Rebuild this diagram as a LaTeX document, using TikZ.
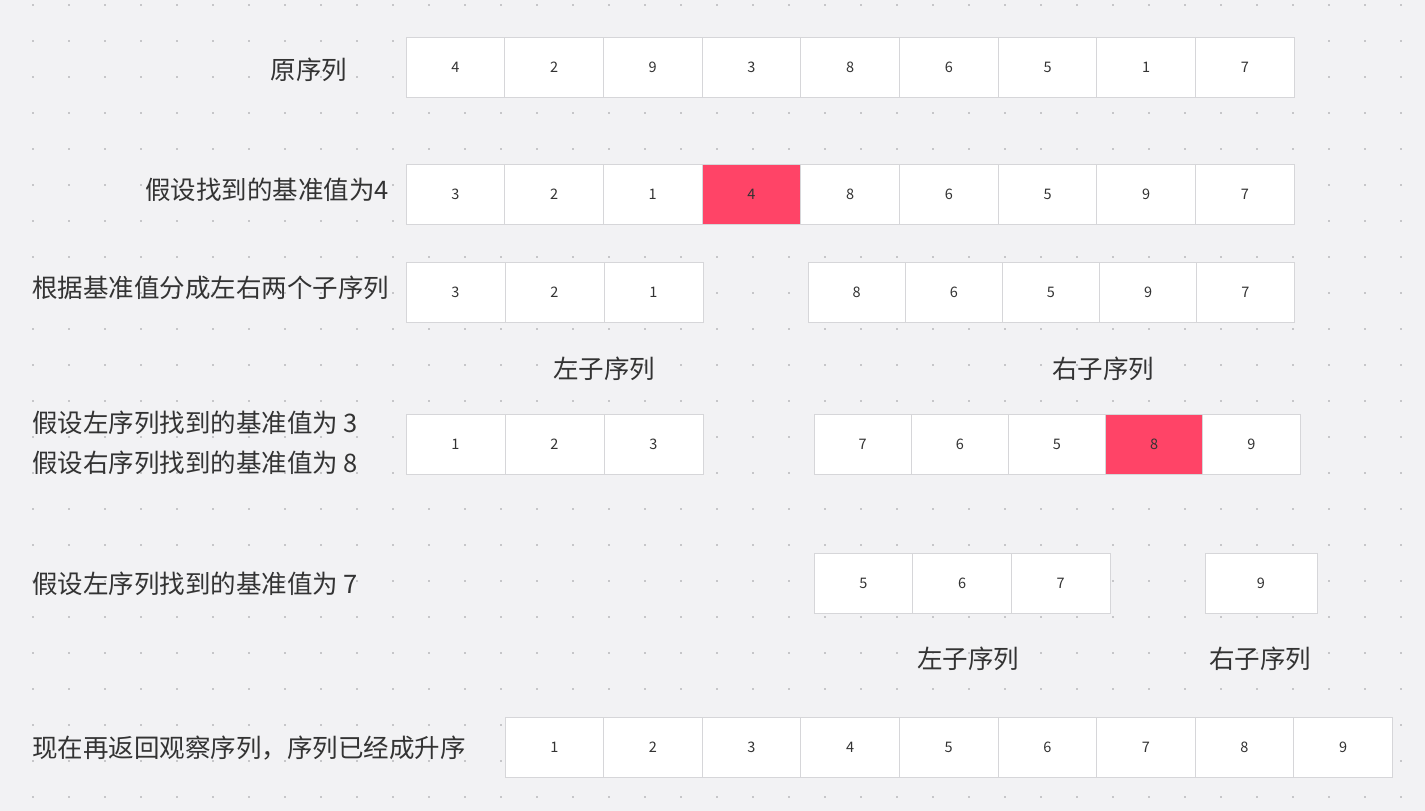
\documentclass[tikz,border=0pt]{standalone}
\usepackage{fontspec}
\setmainfont{Noto Sans CJK SC}
\usetikzlibrary{positioning}

\definecolor{bgcol}{HTML}{F2F2F4}
\definecolor{dotcol}{HTML}{C6C6C9}
\definecolor{linecol}{HTML}{D6D6D9}
\definecolor{pivotcol}{HTML}{FF4467}
\definecolor{txtcol}{HTML}{333333}

\begin{document}
\begin{tikzpicture}[
    x=1pt, y=-1pt,
    cell/.style={draw=linecol, fill=white, line width=1pt, minimum height=60pt,
        inner sep=0pt, text=txtcol, font=\fontsize{14.5}{16}\selectfont},
    pivot/.style={cell, fill=pivotcol},
    label/.style={inner sep=0pt, text=txtcol, font=\fontsize{25.5}{30}\selectfont}
]

% Background and dots
\useasboundingbox[fill=bgcol] (0,0) rectangle (1425,811);
\foreach \i in {0,...,38}
    \foreach \j in {0,...,22}
        \fill[dotcol] ({33+36*\i-1.2},{5+36*\j-1.2}) rectangle ++(2.4,2.4);

% Row 1
\node[label] (t1) at (309,70) {原序列};
\foreach \v [count=\i] in {4,2,9,3,8,6,5,1,7}
    \node[cell, minimum width=98.7pt] (a\i) at ({406+98.7*(\i-0.5)},67) {\v};

% Row 2
\node[label, anchor=east] (t2) at (389,190) {假设找到的基准值为4};
\foreach \v/\s [count=\i] in {3/cell,2/cell,1/cell,4/pivot,8/cell,6/cell,5/cell,9/cell,7/cell}
    \node[\s, minimum width=98.7pt] (b\i) at ({406+98.7*(\i-0.5)},194) {\v};

% Row 3
\node[label, anchor=west] (t3) at (32,288) {根据基准值分成左右两个子序列};
\foreach \v [count=\i] in {3,2,1}
    \node[cell, minimum width=99pt] (c\i) at ({406+99*(\i-0.5)},292) {\v};
\foreach \v [count=\i] in {8,6,5,9,7}
    \node[cell, minimum width=97.2pt] (d\i) at ({808+97.2*(\i-0.5)},292) {\v};
\node[label] (l1) at (604,369) {左子序列};
\node[label] (r1) at (1103,369) {右子序列};

% Row 4
\node[label, anchor=west] (t4) at (32,423) {假设左序列找到的基准值为 3};
\node[label, anchor=west] (t5) at (32,463) {假设右序列找到的基准值为 8};
\foreach \v [count=\i] in {1,2,3}
    \node[cell, minimum width=99pt] (e\i) at ({406+99*(\i-0.5)},444) {\v};
\foreach \v/\s [count=\i] in {7/cell,6/cell,5/cell,8/pivot,9/cell}
    \node[\s, minimum width=97.2pt] (f\i) at ({814+97.2*(\i-0.5)},444) {\v};

% Row 5
\node[label, anchor=west] (t6) at (32,584) {假设左序列找到的基准值为 7};
\foreach \v [count=\i] in {5,6,7}
    \node[cell, minimum width=98.7pt] (g\i) at ({814+98.7*(\i-0.5)},583) {\v};
\node[cell, minimum width=112pt] (h1) at (1261,583) {9};
\node[label] (l2) at (968,659) {左子序列};
\node[label] (r2) at (1260,659) {右子序列};

% Row 6
\node[label, anchor=west] (t7) at (32,748) {现在再返回观察序列，序列已经成升序};
\foreach \v [count=\i] in {1,...,9}
    \node[cell, minimum width=98.6pt] (k\i) at ({505+98.6*(\i-0.5)},747) {\v};

\end{tikzpicture}
\end{document}
